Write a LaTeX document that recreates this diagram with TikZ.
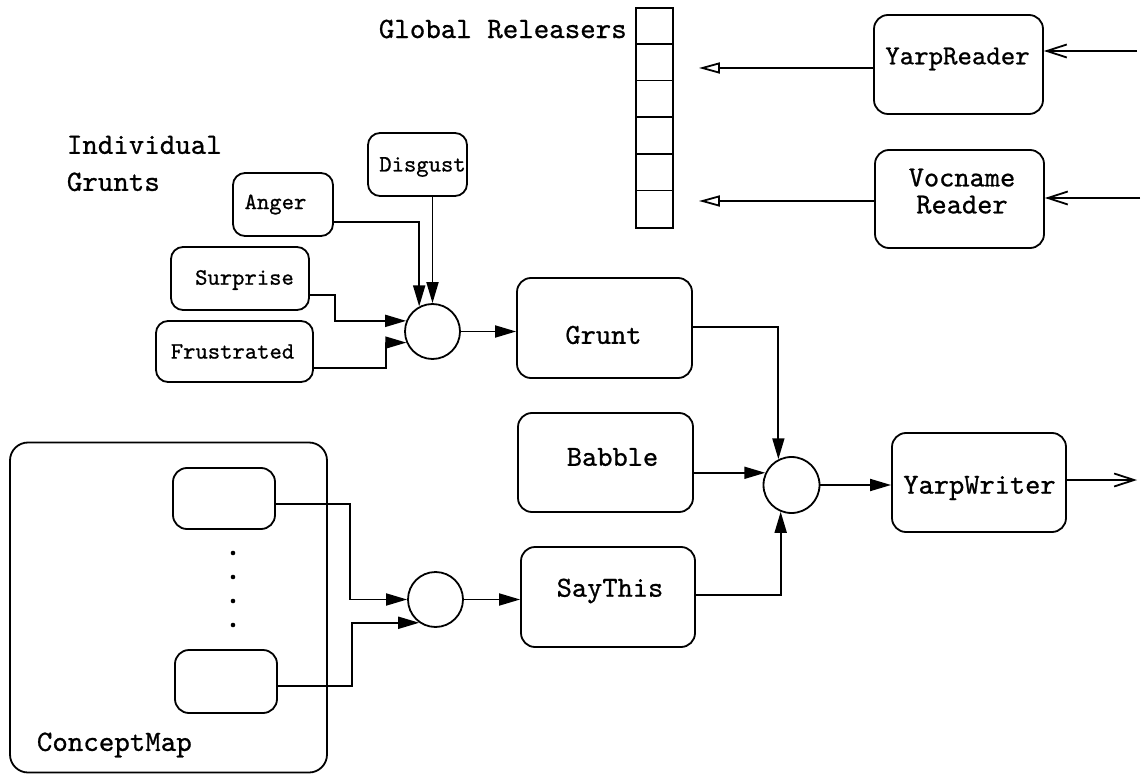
\documentclass[tikz,border=0pt]{standalone}
\usepackage{fontspec}
\newfontfamily\cour[FakeBold=0.8]{lmmono10-regular.otf}
\usetikzlibrary{arrows.meta,calc}
\newcommand\tsh[3]{\raisebox{#2}[\height][\depth]{\kern#1\relax #3\kern-#1\relax}}
\begin{document}
\begin{tikzpicture}[x=1pt,y=-1pt, line width=1.8pt,
  box/.style={draw, rounded corners=14pt, inner sep=0pt, font=\cour\fontsize{29}{27}\selectfont},
  sbox/.style={draw, rounded corners=12pt, inner sep=0pt, font=\cour\fontsize{23.5}{24}\selectfont},
  junc/.style={draw, circle, minimum size=55pt, inner sep=0pt},
  arr/.style={-{Triangle[length=21pt,width=12pt]}},
  oarr/.style={-{Triangle[open,length=21pt,width=11pt]}},
  barr/.style={-{Straight Barb[length=20pt,width=13pt]}},
  lab/.style={font=\cour\fontsize{29.5}{37}\selectfont, inner sep=0pt}]
\useasboundingbox (0,0) rectangle (1145,775);

% labels
\node[lab, anchor=west] (glob) at (378,29) {Global Releasers};
\node[lab, anchor=west, align=left] (indiv) at (66,163.5) {Individual\\Grunts};

% register
\node[draw, minimum width=37pt, minimum height=220pt, inner sep=0pt] (reg) at (654.5,118) {};
\foreach \k in {1,...,5}
  \draw ($(reg.north west)+(0,36.67*\k)$) -- ($(reg.north east)+(0,36.67*\k)$);

% readers
\node[box, minimum width=169pt, minimum height=99pt, font=\cour\fontsize{27.5}{27}\selectfont] (yreader) at (958.5,64.5) {\tsh{-1pt}{5.5pt}{YarpReader}};
\node[box, minimum width=169pt, minimum height=98pt] (vreader) at (959.5,199)
  {\tsh{2.5pt}{4.5pt}{\begin{tabular}{@{}c@{}}Vocname\\Reader\end{tabular}}};

% individual grunts
\node[sbox, minimum width=99pt, minimum height=63pt] (disgust) at (417.5,164.5) {\tsh{5pt}{-2.5pt}{Disgust}};
\node[sbox, minimum width=100pt, minimum height=63pt] (anger) at (283,204.5) {\tsh{-7.5pt}{0pt}{Anger}};
\node[sbox, minimum width=138pt, minimum height=63pt] (surprise) at (240,278.5) {\tsh{4.5pt}{-1.5pt}{Surprise}};
\node[sbox, minimum width=157pt, minimum height=61pt] (frustrated) at (234.5,351.5) {\tsh{-2pt}{0pt}{Frustrated}};

% main boxes
\node[box, minimum width=175pt, minimum height=100pt] (grunt) at (604.5,328) {\tsh{-1pt}{-7pt}{Grunt}};
\node[box, minimum width=175pt, minimum height=99pt] (babble) at (605.5,462.5) {\tsh{7pt}{5.5pt}{Babble}};
\node[box, minimum width=174pt, minimum height=100pt] (saythis) at (608,597) {\tsh{2pt}{6pt}{SayThis}};
\node[box, minimum width=174pt, minimum height=99pt] (ywriter) at (979,482.5) {\tsh{0.5pt}{-5.5pt}{YarpWriter}};

% junctions
\node[junc] (c1) at (432.5,331.5) {};
\node[junc, minimum size=56pt] (c2) at (791.5,485) {};
\node[junc] (c3) at (435.5,599.5) {};

% concept map
\node[draw, rounded corners=18pt, minimum width=317pt, minimum height=330pt, inner sep=0pt] (cmap) at (168.5,607.5) {};
\node[lab, anchor=west] (cmlab) at (36,745) {ConceptMap};
\node[draw, rounded corners=14pt, minimum width=102pt, minimum height=61pt, inner sep=0pt] (b1) at (224,498.5) {};
\node[draw, rounded corners=14pt, minimum width=102pt, minimum height=63pt, inner sep=0pt] (b2) at (226,681.5) {};
\foreach \yy in {553,577,601,625} \fill (233,\yy) circle (2.3pt);

% connectors: readers
\coordinate (in1) at (1137,51);
\coordinate (in2) at (1140,198);
\coordinate (out) at (1137,480);
\draw[oarr] ($(yreader.west)+(0,3.5)$) -- ($(reg.east |- yreader.west)+(25,3.5)$);
\draw[oarr] ($(vreader.west)+(0,2)$) -- ($(reg.east |- vreader.west)+(25,2)$);
\draw[barr] (in1) -- (in1 -| yreader.east);
\draw[barr] (in2) -- (in2 -| vreader.east);

% connectors: grunts
\draw[arr] (c1.north |- disgust.south) -- (c1.north);
\draw[arr] ($(anger.east)+(0,17.5)$) -| (c1.118);
\draw[arr] ($(surprise.east)+(0,16.5)$) -- ++(25,0) |- (c1.158);
\draw[arr] ($(frustrated.east)+(0,16.5)$) -- ++(72,0) |- (c1.203);
\draw[arr] (c1.east) -- (c1.east -| grunt.west);

% connectors: main
\draw[arr] ($(grunt.east)+(0,-1)$) -| (c2.117);
\draw[arr] (c2.155 -| babble.east) -- (c2.155);
\draw[arr] ($(saythis.east)+(0,-2)$) -| (c2.248);
\draw[arr] (c2.east) -- (c2.east -| ywriter.west);
\draw[barr] (ywriter.east |- out) -- (out);

% connectors: concept map
\draw[arr] ($(b1.east)+(0,5.5)$) -- ++(74,0) |- (c3.west);
\draw[arr] ($(b2.east)+(0,4.5)$) -- ++(74,0) |- (c3.235);
\draw[arr] (c3.east) -- (c3.east -| saythis.west);
\end{tikzpicture}
\end{document}
